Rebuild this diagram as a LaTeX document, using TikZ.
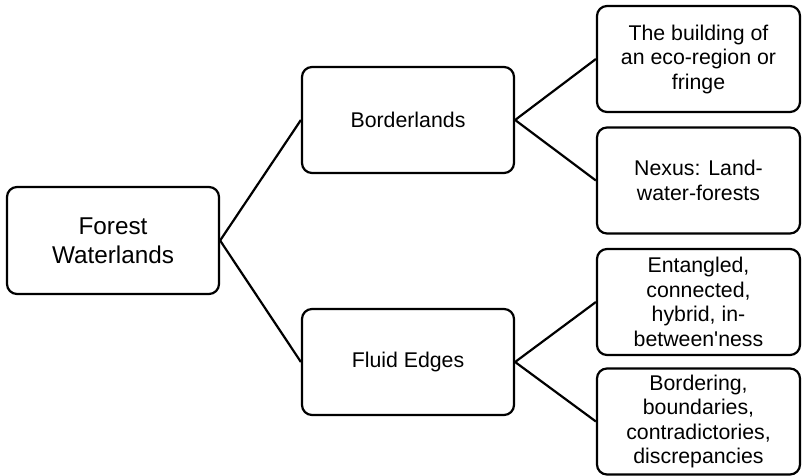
\documentclass[tikz,border=0pt]{standalone}
\usepackage{fontspec}
\setmainfont{Liberation Sans}
\newfontfamily\plainfont{Liberation Sans}
\usetikzlibrary{positioning}

\begin{document}
\begin{tikzpicture}[
    x=1pt, y=-1pt,
    box/.style={rectangle, draw, line width=2.2pt, rounded corners=10pt, align=center, inner sep=2pt},
    rootbox/.style={box, minimum width=212pt, minimum height=107pt, font=\fontsize{24.3}{29}\selectfont},
    midbox/.style={box, minimum width=212pt, minimum height=106pt, font=\fontsize{21.3}{24}\selectfont},
    leafbox/.style={box, minimum width=203pt, minimum height=106pt, font=\fontsize{21.3}{24.5}\selectfont},
    link/.style={line width=2.2pt}
]
\useasboundingbox (0,0) rectangle (803,476);
\node[rootbox] (forest) at (113,240.5) {Forest\\Waterlands};
\node[midbox] (border) at (408,120) {Borderlands};
\node[midbox] (fluid) at (408,362) {Fluid Edges};
\node[leafbox] (eco) at (698.5,59) {The building of\\an eco-region or\\fringe};
\node[leafbox] (nexus) at (698.5,180.5) {Nexus: Land-\\water-forests};
\node[leafbox] (entangled) at (698.5,302) {Entangled,\\connected,\\hybrid, in-\\between{\plainfont'}ness};
\node[leafbox] (bordering) at (698.5,421.5) {Bordering,\\boundaries,\\contradictories,\\discrepancies};
\draw[link] (forest.east) -- (border.west);
\draw[link] (forest.east) -- (fluid.west);
\draw[link] (border.east) -- (eco.west);
\draw[link] (border.east) -- (nexus.west);
\draw[link] (fluid.east) -- (entangled.west);
\draw[link] (fluid.east) -- (bordering.west);
\end{tikzpicture}
\end{document}
